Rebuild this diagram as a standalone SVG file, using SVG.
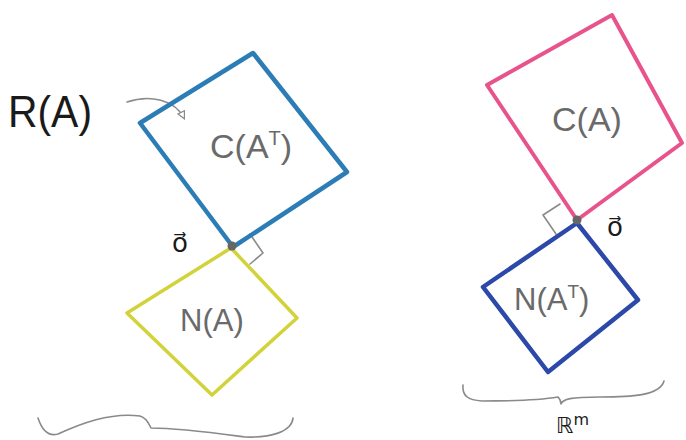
<svg xmlns="http://www.w3.org/2000/svg" width="686" height="440" viewBox="0 0 686 440">
<defs>
<style>
.sq{fill:none;stroke-linejoin:round;stroke-linecap:round}
.lbl{font-family:"Liberation Sans","DejaVu Sans",sans-serif;fill:#6a6a6a}
.ink{font-family:"Liberation Sans","DejaVu Sans",sans-serif;fill:#1a1a1a}
.vec{font-family:"DejaVu Sans",sans-serif;fill:#1a1a1a}
.thin{fill:none;stroke:#8a8a8a;stroke-width:1.6;stroke-linecap:round;stroke-linejoin:round}
</style>
<marker id="open" viewBox="0 0 10 10" refX="8" refY="5" markerWidth="9" markerHeight="9" orient="auto" markerUnits="userSpaceOnUse">
<path d="M1,1 L9,5 L1,9 Z" fill="#fff" stroke="#888" stroke-width="1.3"/>
</marker>
</defs>
<rect width="686" height="440" fill="#fff"/>

<g id="label-RA">
<text class="ink" x="8" y="127" font-size="44" textLength="84" lengthAdjust="spacingAndGlyphs">R(A)</text>
</g>

<g id="connectors">
<path class="thin" d="M127,102 C150,94 175,100 184,118" marker-end="url(#open)"/>
<path class="thin" d="M250,234 L263,253 L250,264"/>
<path class="thin" d="M560,204 L543,215 L556,234"/>
<path class="thin" d="M38,418 C42,430 48,437 58,434 C80,424 110,412 140,416 C147,418 149,424 151,428 C180,428 215,433 245,437 C270,438 292,432 293,418"/>
<path class="thin" d="M463,385 C462,396 468,400 482,401 C510,401 540,400 558,397 C560,399 561,402 561,404 C563,399 570,397 600,397 C630,397 660,396 664,381"/>
</g>

<g id="node-CAT">
<path class="sq" stroke="#2c7db5" stroke-width="4.5" d="M140,123 L253,53 L347,172 L233,247 Z"/>
<text class="lbl" x="210" y="158" font-size="34">C(A<tspan dy="-13" font-size="20">T</tspan><tspan dy="13">)</tspan></text>
</g>

<g id="node-NA">
<path class="sq" stroke="#d2d33a" stroke-width="3.5" d="M231,248 L127,313 L212,395 L297,318 Z"/>
<text class="lbl" x="180" y="331" font-size="31">N(A)</text>
</g>

<g id="origin-left">
<circle cx="232" cy="246" r="4.5" fill="#666"/>
<text class="vec" x="172" y="252" font-size="26">o⃗</text>
</g>

<g id="node-CA">
<path class="sq" stroke="#e8538c" stroke-width="4" d="M487,85 L612,15 L682,143 L577,220 Z"/>
<text class="lbl" x="552" y="131" font-size="34">C(A)</text>
</g>

<g id="node-NAT">
<path class="sq" stroke="#2c48a8" stroke-width="4.5" d="M577,223 L483,287 L548,372 L638,300 Z"/>
<text class="lbl" x="514" y="310" font-size="31">N(A<tspan dy="-12" font-size="19">T</tspan><tspan dy="12">)</tspan></text>
</g>

<g id="origin-right">
<circle cx="577" cy="220" r="4.5" fill="#666"/>
<text class="vec" x="607" y="236" font-size="26">o⃗</text>
</g>

<g id="label-Rm">
<text class="vec" x="556" y="433" font-size="22">ℝ<tspan dy="-8" font-size="16">m</tspan></text>
</g>
</svg>
